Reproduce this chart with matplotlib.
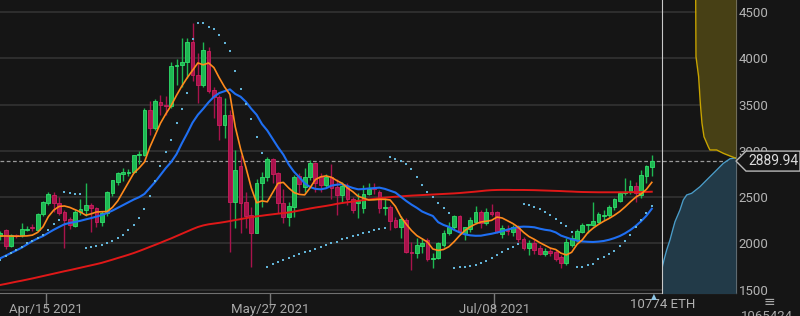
import numpy as np
import pandas as pd
import matplotlib
matplotlib.use("Agg")
import matplotlib.pyplot as plt
import matplotlib.dates as mdates
from matplotlib.patches import Polygon

plt.rcParams['font.family'] = ['Roboto', 'DejaVu Sans']

# daily ETH candles, first one is Apr 6 2021
first_day = "2021-04-06"

opens = [2080, 2145, 1975, 2088, 2092, 2148, 2180, 2150, 2318, 2437,
         2524, 2437, 2340, 2262, 2190, 2340, 2362, 2416, 2383, 2232,
         2329, 2545, 2664, 2755, 2765, 2775, 2955, 2955, 3442, 3244,
         3531, 3500, 3485, 3912, 3928, 3957, 4179, 3820, 3712, 4082,
         3657, 3579, 3280, 3388, 2451, 2837, 2451, 2308, 2117, 2657,
         2714, 2908, 2758, 2440, 2289, 2397, 2729, 2613, 2714, 2865,
         2714, 2632, 2721, 2613, 2524, 2613, 2477, 2440, 2380, 2534,
         2600, 2559, 2380, 2390, 2254, 2175, 2254, 1911, 1894, 1973,
         2038, 1830, 1840, 1984, 2110, 2175, 2297, 2102, 2153, 2235,
         2343, 2218, 2335, 2343, 2102, 2150, 2128, 2164, 2045, 1948,
         2009, 1948, 1886, 1920, 1911, 1851, 1793, 1984, 2038, 2128,
         2195, 2200, 2235, 2300, 2308, 2390, 2462, 2545, 2559, 2621,
         2524, 2729, 2829]

closes = [2110, 1968, 2090, 2078, 2155, 2160, 2170, 2315, 2445, 2530,
          2437, 2330, 2255, 2200, 2340, 2372, 2416, 2383, 2232, 2329,
          2556, 2686, 2761, 2770, 2775, 2955, 2960, 3442, 3247, 3542,
          3496, 3488, 3917, 3925, 3960, 4179, 3820, 3712, 4090, 3647,
          3579, 3280, 3388, 2451, 2794, 2440, 2297, 2117, 2657, 2714,
          2908, 2750, 2434, 2289, 2405, 2721, 2642, 2714, 2865, 2650,
          2632, 2714, 2596, 2524, 2624, 2477, 2362, 2462, 2534, 2585,
          2585, 2380, 2390, 2246, 2175, 2261, 1911, 1895, 1984, 2002,
          1829, 1845, 2002, 2110, 2175, 2297, 2128, 2175, 2254, 2343,
          2218, 2343, 2320, 2128, 2164, 2140, 2175, 2045, 1948, 2009,
          1930, 1886, 1922, 1894, 1829, 1793, 2019, 2056, 2138, 2200,
          2205, 2243, 2318, 2310, 2397, 2477, 2548, 2560, 2621, 2548,
          2740, 2837, 2889.94]

highs = [2140, 2160, 2100, 2100, 2220, 2185, 2205, 2325, 2460, 2555,
         2555, 2500, 2360, 2290, 2360, 2480, 2653, 2440, 2395, 2350,
         2565, 2690, 2770, 2815, 2800, 2960, 3000, 3460, 3542, 3560,
         3600, 3593, 3963, 3990, 4219, 4216, 4378, 4057, 4180, 4125,
         3693, 3600, 3571, 3440, 3010, 2956, 2559, 2397, 2694, 2775,
         2930, 2920, 2775, 2585, 2451, 2740, 2758, 2812, 2900, 2883,
         2758, 2750, 2858, 2700, 2667, 2650, 2505, 2545, 2632, 2657,
         2657, 2578, 2491, 2416, 2289, 2297, 2272, 2019, 2056, 2056,
         2056, 1894, 2019, 2146, 2235, 2308, 2308, 2178, 2283, 2405,
         2362, 2380, 2427, 2354, 2200, 2200, 2200, 2200, 2067, 2038,
         2045, 1984, 1948, 1951, 1930, 1876, 2056, 2092, 2153, 2225,
         2210, 2451, 2343, 2362, 2416, 2488, 2559, 2707, 2686, 2667,
         2794, 2848, 2956]

lows = [2040, 1940, 1960, 2060, 2070, 2130, 2130, 2140, 2300, 2420,
        2340, 2310, 1950, 2160, 2178, 2310, 2300, 2124, 2180, 2190,
        2300, 2510, 2630, 2678, 2729, 2760, 2858, 2940, 3172, 3230,
        3387, 3388, 3463, 3712, 3690, 3787, 3760, 3517, 3693, 3622,
        3355, 3118, 3139, 1911, 2167, 2117, 2164, 1749, 2110, 2397,
        2678, 2650, 2326, 2218, 2189, 2289, 2542, 2559, 2686, 2559,
        2559, 2613, 2480, 2308, 2434, 2416, 2326, 2275, 2326, 2524,
        2537, 2326, 2308, 2146, 2164, 2059, 1894, 1714, 1840, 1894,
        1815, 1732, 1829, 1966, 2092, 2146, 2110, 2038, 2128, 2218,
        2164, 2200, 2297, 2117, 2056, 2092, 2081, 2019, 1930, 1876,
        1886, 1876, 1865, 1870, 1810, 1739, 1768, 1966, 2019, 2117,
        2117, 2189, 2225, 2254, 2289, 2362, 2451, 2524, 2534, 2451,
        2488, 2650, 2729]

# indicator lines as drawn on the chart
ma_fast = [2081, 2081, 2080, 2078, 2080, 2082, 2090, 2120, 2180, 2290,
           2360, 2400, 2405, 2390, 2365, 2340, 2305, 2320, 2340, 2343,
           2345, 2390, 2460, 2560, 2660, 2760, 2815, 2880, 3040, 3170,
           3300, 3400, 3490, 3600, 3700, 3790, 3870, 3950, 3930, 3950,
           3900, 3790, 3690, 3610, 3260, 3020, 2820, 2600, 2440, 2460,
           2450, 2550, 2650, 2660, 2600, 2550, 2530, 2525, 2600, 2690,
           2720, 2730, 2715, 2680, 2650, 2600, 2560, 2510, 2490, 2470,
           2472, 2477, 2477, 2470, 2400, 2290, 2210, 2140, 2085, 2050,
           2015, 1940, 1925, 1935, 1965, 2020, 2085, 2140, 2180, 2210,
           2232, 2240, 2250, 2285, 2275, 2245, 2215, 2175, 2120, 2075,
           2045, 2010, 1980, 1950, 1935, 1895, 1876, 1905, 1990, 2040,
           2115, 2165, 2205, 2240, 2270, 2305, 2345, 2395, 2450, 2500,
           2535, 2585, 2660]

ma_mid = [1840, 1868, 1897, 1925, 1955, 1990, 2025, 2055, 2080, 2115,
          2148, 2178, 2207, 2222, 2232, 2245, 2260, 2274, 2290, 2307,
          2330, 2355, 2385, 2415, 2445, 2475, 2500, 2535, 2600, 2665,
          2740, 2815, 2880, 2965, 3082, 3190, 3305, 3390, 3455, 3525,
          3585, 3625, 3645, 3665, 3615, 3585, 3530, 3455, 3390, 3290,
          3220, 3130, 3040, 2960, 2855, 2775, 2715, 2650, 2610, 2590,
          2585, 2596, 2625, 2635, 2640, 2620, 2600, 2585, 2588, 2594,
          2598, 2603, 2590, 2570, 2550, 2505, 2460, 2420, 2385, 2345,
          2320, 2297, 2230, 2200, 2180, 2146, 2120, 2098, 2088, 2083,
          2084, 2095, 2105, 2118, 2133, 2150, 2165, 2178, 2182, 2180,
          2175, 2160, 2148, 2140, 2120, 2085, 2065, 2045, 2030, 2022,
          2018, 2016, 2020, 2027, 2040, 2058, 2080, 2110, 2146, 2190,
          2240, 2300, 2375]

ma_slow = [1552, 1563, 1575, 1587, 1598, 1610, 1622, 1635, 1648, 1661,
           1674, 1687, 1700, 1712, 1725, 1738, 1751, 1764, 1777, 1791,
           1808, 1825, 1843, 1860, 1878, 1897, 1918, 1940, 1963, 1985,
           2008, 2032, 2055, 2080, 2105, 2130, 2155, 2178, 2195, 2207,
           2215, 2223, 2232, 2242, 2253, 2263, 2274, 2284, 2293, 2300,
           2308, 2315, 2322, 2328, 2335, 2345, 2356, 2367, 2378, 2388,
           2397, 2406, 2416, 2428, 2437, 2445, 2453, 2461, 2468, 2475,
           2482, 2489, 2495, 2500, 2505, 2509, 2513, 2517, 2520, 2523,
           2526, 2529, 2532, 2535, 2538, 2541, 2545, 2550, 2555, 2560,
           2566, 2572, 2576, 2578, 2579, 2579, 2578, 2578, 2578, 2577,
           2576, 2574, 2572, 2570, 2568, 2566, 2563, 2561, 2558, 2556,
           2555, 2554, 2553, 2553, 2553, 2553, 2553, 2553, 2554, 2555,
           2556, 2557, 2559]

sar = [1822, 1860, 1894, 1930, 1966, 2002, 2030, 2056, 2092, 2146,
       2205, 2255, 2559, 2548, 2534, 2534, 1948, 1966, 1976, 1984,
       2002, 2030, 2056, 2092, 2146, 2200, 2272, 2369, 2516, 2678,
       2840, 2992, 3118, 3304, 3456, 3622, 4205, 4378, 4378, 4342,
       4313, 4255, 4162, 4082, 3866, 3668, 3503, 3341, 3146, 2981,
       1749, 1778, 1800, 1822, 1840, 1865, 1886, 1908, 1922, 1944,
       1966, 1988, 2005, 2021, 2045, 2063, 2081, 2095, 2110, 2128,
       2146, 2160, 2171, 2930, 2909, 2894, 2858, 2801, 2714, 2632,
       2559, 2499, 2434, 2380, 2326, 1732, 1743, 1749, 1757, 1768,
       1793, 1814, 1840, 1876, 1908, 1937, 1966, 1994, 2427, 2416,
       2391, 2372, 2343, 2305, 2261, 2225, 2189, 2128, 1743, 1749,
       1764, 1778, 1829, 1858, 1883, 1922, 1973, 2030, 2092, 2182,
       2254, 2330, 2405]

# order book depth (cumulative ETH)
bid_price = [2925, 2915, 2865, 2775, 2686, 2613, 2542, 2524, 2470, 2362,
             2235, 2146, 2038, 1930, 1822, 1732, 1400]
bid_vol = [0, 874, 1849, 3058, 4266, 5242, 6450, 7178, 7673, 8154,
           8882, 9217, 9610, 10090, 10483, 10774, 10774]
ask_price = [2920, 2945, 2974, 3010, 3010, 3045, 3153, 3298, 3514, 3802, 4018, 4700]
ask_vol = [0, 874, 1849, 2815, 3800, 4034, 4659, 4950, 5194, 5441, 5824, 5870]
depth_max = 10774

price_ticks = [1500, 2000, 2500, 3000, 3500, 4000, 4500]
date_ticks = ["2021-04-15", "2021-05-27", "2021-07-08"]
last_price = 2889.94

BG = "#151515"
GREEN, GREEN_EDGE = "#1eb852", "#2fe06c"
RED, RED_EDGE = "#a8134c", "#cc1f5f"

days = pd.date_range(first_day, periods=len(closes), freq="D") + pd.Timedelta(hours=12)
x = mdates.date2num(days)

fig = plt.figure(figsize=(8, 3.16), dpi=100, facecolor=BG)
ax_pos = [0, 23 / 316, 736 / 800, 293 / 316]
ax = fig.add_axes(ax_pos, facecolor=BG)
ymin, ymax = 1465, 4630
ax.set_ylim(ymin, ymax)
x0 = x[0] - 0.056
ax.set_xlim(x0, x0 + 736 / 5.34)

ax.set_yticks(price_ticks)
ax.grid(axis="y", color="#333333", lw=1.2)
ax.set_axisbelow(True)

# candles
o, h, l, c = map(np.array, (opens, highs, lows, closes))
up = c >= o
col = np.where(up, GREEN, RED)
edge = np.where(up, GREEN_EDGE, RED_EDGE)
ax.vlines(x, l, h, colors=col, lw=1, zorder=2)
body = np.maximum(np.abs(c - o), 8)
ax.bar(x, body, bottom=np.minimum(o, c), width=0.7, color=col,
       edgecolor=edge, lw=0.6, zorder=3)

ax.plot(x, ma_slow, color="#e01818", lw=1.4, zorder=4)
ax.plot(x, ma_mid, color="#1f6ff2", lw=1.5, zorder=4)
ax.plot(x, ma_fast, color="#ff8a1c", lw=1.2, zorder=5)
ax.scatter(x, sar, marker="s", s=3, color="#62b4d8", lw=0, zorder=6)

ax.axhline(last_price, color="#9a9a9a", lw=0.9, ls=(0, (3, 2)), zorder=1)

for s in ("left", "top"):
    ax.spines[s].set_visible(False)
ax.spines["right"].set_color("#9c9c9c")
ax.spines["bottom"].set_color("#707070")

ax.yaxis.tick_right()
ax.set_yticklabels([str(p) for p in price_ticks])
ax.tick_params(axis="y", length=0, pad=2, labelcolor="#b4b4b4", labelsize=9.5)
tick_x = mdates.date2num(pd.to_datetime(date_ticks))
ax.set_xticks(tick_x)
ax.set_xticklabels([pd.Timestamp(d).strftime("%b/%d %Y") for d in date_ticks])
ax.tick_params(axis="x", length=11, width=1, color="#7a7a7a", pad=-4,
               labelcolor="#a8a8a8", labelsize=9.5)

# depth panel on the right
dax = fig.add_axes([662 / 800, 23 / 316, 74 / 800, 293 / 316])
dax.patch.set_alpha(0)
dax.set_xlim(depth_max, 0)
dax.set_ylim(ymin, ymax)
dax.set_xticks([])
dax.set_yticks([])
for s in ("right", "top", "bottom"):
    dax.spines[s].set_visible(False)
dax.spines["left"].set_color("#c8c8c8")
dax.fill_betweenx(bid_price, bid_vol, 0, color="#223a48", lw=0)
dax.plot(bid_vol, bid_price, color="#4a9cc8", lw=1.0)
dax.fill_betweenx(ask_price, ask_vol, 0, color="#474015", lw=0)
dax.plot(ask_vol, ask_price, color="#c8a400", lw=1.0)

# last price tag
yf = ax_pos[1] + (last_price - ymin) / (ymax - ymin) * ax_pos[3]
hh = 10 / 316
tag = Polygon([(736 / 800, yf), (746 / 800, yf + hh), (1.0, yf + hh),
               (1.0, yf - hh), (746 / 800, yf - hh)], closed=True,
              transform=fig.transFigure, facecolor=BG, edgecolor="#b8b8b8",
              lw=1, zorder=10)
fig.add_artist(tag)
fig.text(748 / 800, yf, f"{last_price:.2f}", va="center", ha="left",
         color="#dcdcdc", fontsize=10, zorder=11)

fig.text(663 / 800, 1 - 305 / 316, f"{depth_max} ETH", ha="center", va="center",
         color="#b0b0b0", fontsize=9.5)
fig.text(654 / 800, 1 - 297 / 316, "▲", ha="center", va="center",
         fontsize=5.5, color="#8ec6e6")
fig.text(769 / 800, 1 - 302 / 316, "≡", ha="center", va="center",
         fontsize=10, color="#a8a8a8")
fig.text(741 / 800, 1 - 310 / 316, "1065424", ha="left", va="top",
         fontsize=9.5, color="#a8a8a8")

fig.savefig("out.png", dpi=100, facecolor=BG)
